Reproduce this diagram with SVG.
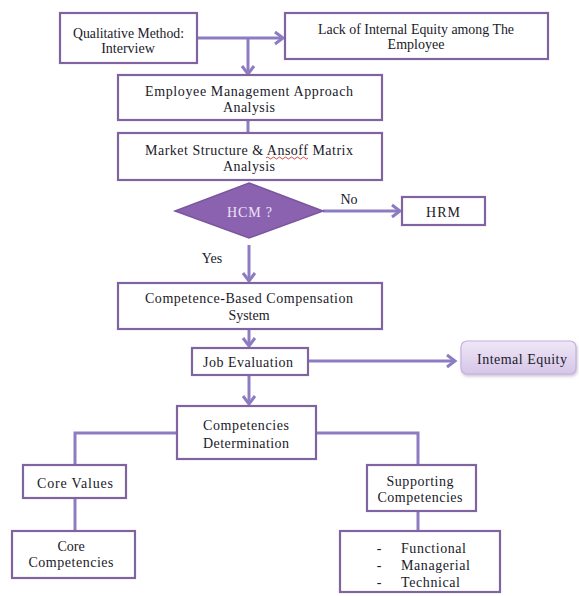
<svg xmlns="http://www.w3.org/2000/svg" width="579" height="596" viewBox="0 0 579 596">
<style>
.box{fill:#fff;stroke:#8064a2;stroke-width:2.2}
.t{font-family:"Liberation Serif","Times New Roman",serif;font-size:14px;fill:#1a1a2a;text-anchor:middle;dominant-baseline:central}
.ts{text-anchor:start}
.c{fill:none;stroke:#8e7cc3;stroke-width:3}
</style>
<defs>
<marker id="ah" markerUnits="userSpaceOnUse" markerWidth="14" markerHeight="16" refX="11" refY="8" orient="auto">
<polyline points="3,2 11,8 3,14" fill="none" stroke="#8e7cc3" stroke-width="3"/>
</marker>
<linearGradient id="ig" x1="0" y1="0" x2="0" y2="1">
<stop offset="0" stop-color="#efe8f6"/>
<stop offset="1" stop-color="#d6c5e8"/>
</linearGradient>
<filter id="sh" x="-10%" y="-20%" width="130%" height="160%">
<feDropShadow dx="1" dy="2" stdDeviation="1.5" flood-color="#9a88b8" flood-opacity="0.5"/>
</filter>
</defs>
<rect width="579" height="596" fill="#fff"/>

<g id="connectors">
<line class="c" x1="197" y1="38" x2="283" y2="38" marker-end="url(#ah)"/>
<line class="c" x1="248" y1="38" x2="248" y2="74" marker-end="url(#ah)"/>
<line class="c" x1="248" y1="120" x2="248" y2="133"/>
<line class="c" x1="323" y1="211" x2="400" y2="211" marker-end="url(#ah)"/>
<line class="c" x1="249" y1="245" x2="249" y2="281" marker-end="url(#ah)"/>
<line class="c" x1="249" y1="329" x2="249" y2="346" marker-end="url(#ah)"/>
<line class="c" x1="308" y1="361" x2="455" y2="361" marker-end="url(#ah)"/>
<line class="c" x1="249" y1="375" x2="249" y2="404" marker-end="url(#ah)"/>
<polyline class="c" points="177,433 75,433 75,465"/>
<line class="c" x1="75" y1="498" x2="75" y2="531"/>
<polyline class="c" points="316,433 418,433 418,465"/>
<line class="c" x1="418" y1="511" x2="418" y2="531"/>
</g>

<g id="qualitative">
<rect class="box" x="60" y="13" width="137" height="50"/>
<text class="t" x="128.5" y="33" textLength="111" lengthAdjust="spacingAndGlyphs">Qualitative Method:</text>
<text class="t" x="128" y="48">Interview</text>
</g>

<g id="lack">
<rect class="box" x="285" y="13" width="263" height="46"/>
<text class="t" x="416" y="29" textLength="196" lengthAdjust="spacingAndGlyphs">Lack of Internal Equity among The</text>
<text class="t" x="416" y="44">Employee</text>
</g>

<g id="ema">
<rect class="box" x="118" y="75" width="264" height="45"/>
<text class="t" x="249" y="91" textLength="208" lengthAdjust="spacing">Employee Management Approach</text>
<text class="t" x="249" y="107" textLength="52" lengthAdjust="spacing">Analysis</text>
</g>

<g id="market">
<rect class="box" x="118" y="133" width="264" height="47"/>
<text class="t" x="249" y="150" textLength="208" lengthAdjust="spacing">Market Structure &amp; Ansoff Matrix</text>
<path d="M266,158 q1.5,-2 3,0 t3,0 t3,0 t3,0 t3,0 t3,0 t3,0 t3,0 t3,0 t3,0 t3,0 t3,0 t3,0 t3,0" fill="none" stroke="#d0342c" stroke-width="0.9"/>
<text class="t" x="249" y="166" textLength="52" lengthAdjust="spacing">Analysis</text>
</g>

<g id="hcm">
<polygon points="249,183 323,211 249,238 175,211" fill="#8a62b0" stroke="#7a56a0" stroke-width="1.5"/>
<text class="t" x="249.5" y="212" style="fill:#ece4f4" textLength="45" lengthAdjust="spacing">HCM ?</text>
</g>

<g id="hrm">
<rect class="box" x="402" y="197" width="83" height="28"/>
<text class="t" x="443" y="212" textLength="34" lengthAdjust="spacing">HRM</text>
</g>

<g id="labels">
<text class="t" x="349" y="199">No</text>
<text class="t" x="212" y="258">Yes</text>
</g>

<g id="cbcs">
<rect class="box" x="118" y="283" width="264" height="46"/>
<text class="t" x="249" y="298" textLength="208" lengthAdjust="spacing">Competence-Based Compensation</text>
<text class="t" x="249" y="315">System</text>
</g>

<g id="jobeval">
<rect class="box" x="192" y="348" width="116" height="27"/>
<text class="t" x="248" y="362" textLength="90" lengthAdjust="spacing">Job Evaluation</text>
</g>

<g id="internal">
<rect x="461" y="341" width="115" height="33" rx="6" fill="url(#ig)" stroke="#c4b2dc" stroke-width="1.2" filter="url(#sh)"/>
<text class="t" x="522" y="359" textLength="90" lengthAdjust="spacing">Intemal Equity</text>
</g>

<g id="compdet">
<rect class="box" x="177" y="406" width="139" height="53"/>
<text class="t" x="246" y="425" textLength="86" lengthAdjust="spacing">Competencies</text>
<text class="t" x="246" y="443" textLength="86" lengthAdjust="spacing">Determination</text>
</g>

<g id="corevalues">
<rect class="box" x="23" y="465" width="103" height="33"/>
<text class="t" x="75" y="483" textLength="76" lengthAdjust="spacing">Core Values</text>
</g>

<g id="corecomp">
<rect class="box" x="12" y="531" width="123" height="47"/>
<text class="t" x="71" y="546">Core</text>
<text class="t" x="71" y="562" textLength="85" lengthAdjust="spacing">Competencies</text>
</g>

<g id="supporting">
<rect class="box" x="367" y="465" width="109" height="46"/>
<text class="t" x="420" y="481" textLength="67" lengthAdjust="spacing">Supporting</text>
<text class="t" x="420" y="497" textLength="85" lengthAdjust="spacing">Competencies</text>
</g>

<g id="types">
<rect class="box" x="340" y="531" width="160" height="61"/>
<text class="t" x="379" y="548">-</text>
<text class="t" x="379" y="565">-</text>
<text class="t" x="379" y="582">-</text>
<text class="t ts" x="401" y="548" textLength="65" lengthAdjust="spacing">Functional</text>
<text class="t ts" x="401" y="565" textLength="69" lengthAdjust="spacing">Managerial</text>
<text class="t ts" x="401" y="582" textLength="59" lengthAdjust="spacing">Technical</text>
</g>
</svg>
